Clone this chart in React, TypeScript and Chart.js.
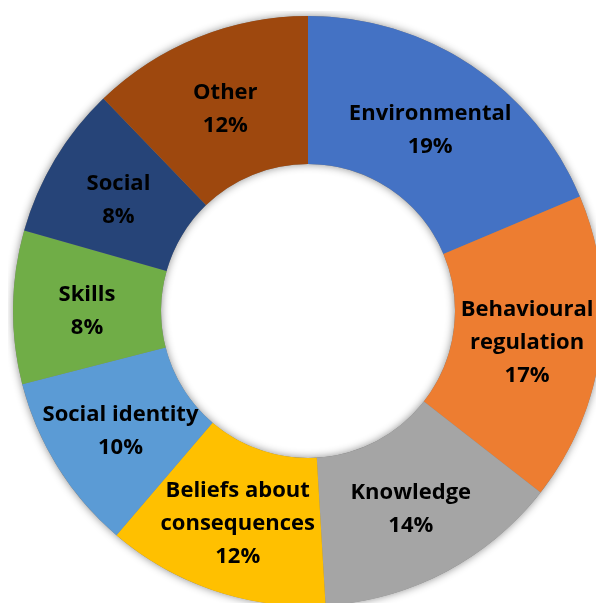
import React, { useEffect, useRef } from "react";
import { Chart, registerables } from "chart.js";

Chart.register(...registerables);

const categories: string[] = [
  "Environmental",
  "Behavioural regulation",
  "Knowledge",
  "Beliefs about consequences",
  "Social identity",
  "Skills",
  "Social",
  "Other",
];

const labelLines: string[][] = [
  ["Environmental"],
  ["Behavioural", "regulation"],
  ["Knowledge"],
  ["Beliefs about", "consequences"],
  ["Social identity"],
  ["Skills"],
  ["Social"],
  ["Other"],
];

const values: number[] = [18.65, 16.9, 13.5, 12.2, 9.75, 8.4, 8.4, 12.2];

const percentLabels: string[] = ["19%", "17%", "14%", "12%", "10%", "8%", "8%", "12%"];

const colors: string[] = [
  "#4472C4",
  "#ED7D31",
  "#A5A5A5",
  "#FFC000",
  "#5B9BD5",
  "#70AD47",
  "#264478",
  "#9E480E",
];

const ringShadow = {
  id: "ringShadow",
  beforeDatasetsDraw(chart: any) {
    const meta = chart.getDatasetMeta(0);
    const arc = meta.data[0];
    if (!arc) return;
    const { x, y, outerRadius, innerRadius } = arc.getProps(
      ["x", "y", "outerRadius", "innerRadius"],
      true
    );
    const ctx = chart.ctx;
    ctx.save();
    ctx.shadowColor = "rgba(0,0,0,0.45)";
    ctx.shadowBlur = 9;
    ctx.shadowOffsetX = 0;
    ctx.shadowOffsetY = 0;
    ctx.fillStyle = "#808080";
    ctx.beginPath();
    ctx.arc(x, y, outerRadius, 0, Math.PI * 2);
    ctx.arc(x, y, innerRadius, Math.PI * 2, 0, true);
    ctx.closePath();
    ctx.fill("evenodd");
    ctx.restore();
  },
};

const sliceLabels = {
  id: "sliceLabels",
  afterDatasetsDraw(chart: any) {
    const meta = chart.getDatasetMeta(0);
    const ctx = chart.ctx;
    ctx.save();
    ctx.fillStyle = "#000000";
    ctx.font = "bold 22px 'Open Sans'";
    ctx.textAlign = "center";
    ctx.textBaseline = "middle";
    const lineH = 33;
    meta.data.forEach((el: any, i: number) => {
      const p = el.getCenterPoint(true);
      const lines = [...labelLines[i], percentLabels[i]];
      const startY = p.y + 3 - ((lines.length - 1) * lineH) / 2;
      lines.forEach((t, k) => {
        ctx.fillText(t, p.x, startY + k * lineH);
      });
    });
    ctx.restore();
  },
};

export default function App() {
  const canvasRef = useRef<HTMLCanvasElement | null>(null);

  useEffect(() => {
    if (!canvasRef.current) return;
    const chart = new Chart(canvasRef.current, {
      type: "doughnut",
      data: {
        labels: categories,
        datasets: [
          {
            data: values,
            backgroundColor: colors,
            borderWidth: 0,
          },
        ],
      },
      options: {
        animation: false,
        responsive: true,
        maintainAspectRatio: false,
        cutout: 147,
        layout: { padding: 5 },
        plugins: {
          legend: { display: false },
          tooltip: { enabled: false },
        },
      },
      plugins: [ringShadow, sliceLabels],
    });
    return () => chart.destroy();
  }, []);

  return (
    <div
      style={{
        position: "fixed",
        left: 0,
        top: 0,
        width: 596,
        height: 603,
        overflow: "hidden",
        background: "#ffffff",
      }}
    >
      <div style={{ position: "absolute", left: 8, top: 11, width: 600, height: 600 }}>
        <canvas ref={canvasRef} />
      </div>
    </div>
  );
}
